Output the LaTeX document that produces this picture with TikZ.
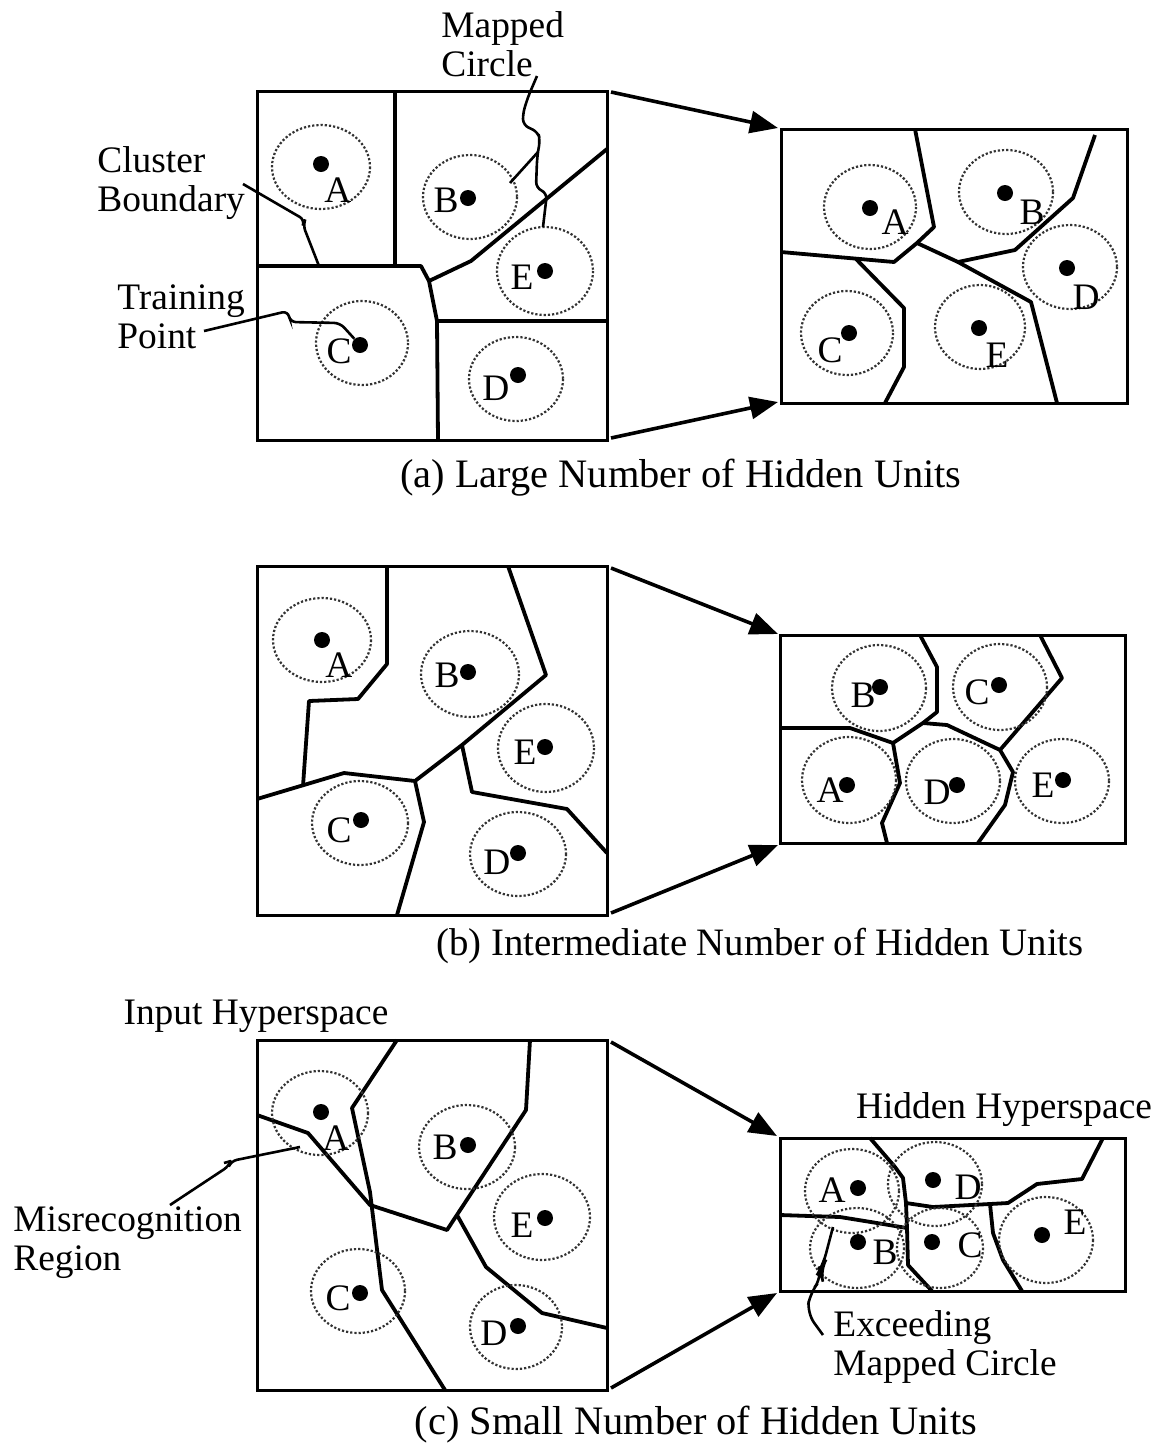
\documentclass[tikz,border=0pt]{standalone}
\usepackage{fontspec}
\setmainfont{Liberation Serif}
\usetikzlibrary{arrows.meta}

\begin{document}
\begin{tikzpicture}[x=0.5pt, y=-0.5pt,
    every node/.style={font=\fontsize{18.7}{19.5}\selectfont, inner sep=0pt},
    frame/.style={draw, line width=1.5pt},
    border/.style={draw, line width=1.9pt, line join=round},
    mapped/.style={draw=black!80, line width=1.1pt, densely dotted},
    train/.style={circle, fill, minimum size=8pt},
    leader/.style={draw, line width=1.3pt, rounded corners=3pt},
    maparrow/.style={draw, line width=1.8pt, -{Triangle[length=14pt,width=11pt]}},
    caption/.style={font=\fontsize{20.2}{24}\selectfont}
]
\useasboundingbox (0,0) rectangle (1158,1448);

% (a) large number of hidden units
\draw[frame] (257,91) rectangle (607,440);
\draw[border] (395,91) -- (395,266);
\draw[border] (257,266) -- (421,266) -- (429,281) -- (437,321) -- (438,440);
\draw[border] (437,321) -- (607,321);
\draw[border] (429,281) -- (471,261) -- (607,149);
\foreach \n/\cx/\cy/\rx/\ry/\dx/\dy/\lx/\ly in {
    A/321/167/49/42/321/164/338/190, B/470/197/47/42/468/198/446/200,
    E/545/271/48/44/545/271/522/277, C/362/343/46/42/360/345/339/351,
    D/516/379/47/42/518/375/496/388}{
  \draw[mapped] (\cx,\cy) ellipse [x radius=\rx, y radius=\ry];
  \node[train] (aL-\n) at (\dx,\dy) {};
  \node (aL-\n-lbl) at (\lx,\ly) {\n};
}

\draw[frame] (781,129) rectangle (1127,403);
\draw[border] (915,129) -- (934,227) -- (917,243) -- (894,262) -- (781,252);
\draw[border] (917,243) -- (958,262) -- (1031,302) -- (1057,403);
\draw[border] (958,262) -- (1015,250) -- (1073,198) -- (1095,135);
\draw[border] (856,259) -- (904,308) -- (904,367) -- (885,403);
\foreach \n/\cx/\cy/\rx/\ry/\dx/\dy/\lx/\ly in {
    A/870/207/46/42/870/208/895/222, B/1006/192/47/42/1005/193/1032/212,
    D/1070/267/47/42/1067/268/1086/297, C/847/333/46/42/849/333/830/350,
    E/980/327/45/42/979/328/997/355}{
  \draw[mapped] (\cx,\cy) ellipse [x radius=\rx, y radius=\ry];
  \node[train] (aR-\n) at (\dx,\dy) {};
  \node (aR-\n-lbl) at (\lx,\ly) {\n};
}

\node[align=left, anchor=west] (mapcircle) at (441,44) {Mapped\\Circle};
\node[align=left, anchor=west] (cluster) at (97,183) {Cluster\\Boundary};
\node[align=left, anchor=west] (training) at (117,317) {Training\\Point};
\coordinate (mc-start) at (537,76);
\coordinate (mc-fork) at (538,152);
\coordinate (mc-B) at (510,183);
\coordinate (mc-E) at (543,227);
\draw[leader] (mc-start) -- (528,97) -- (523,113) -- (523,125) -- (538,132) -- (540,140) -- (mc-fork);
\draw[leader] (mc-fork) -- (mc-B);
\draw[leader] (mc-fork) -- (537,160) -- (536,188) -- (547,193) -- (mc-E);
\coordinate (cb-start) at (243,184);
\coordinate (cb-end) at (319,266);
\draw[leader] (cb-start) -- (305,220) -- (303,225) -- (cb-end);
\coordinate (tp-start) at (204,331);
\draw[leader] (tp-start) -- (288,311) -- (290,322) -- (340,323) -- (aL-C);

\coordinate (aL-ne) at (611,92);
\coordinate (aL-se) at (611,438);
\coordinate (aR-nw) at (778,128);
\coordinate (aR-sw) at (778,402);
\draw[maparrow] (aL-ne) -- (aR-nw);
\draw[maparrow] (aL-se) -- (aR-sw);
\node[caption] (cap-a) at (681,478) {(a) Large Number of Hidden Units};

% (b) intermediate number of hidden units
\draw[frame] (257,566) rectangle (607,915);
\draw[border] (387,566) -- (387,664) -- (358,699) -- (309,701) -- (303,786);
\draw[border] (257,799) -- (344,773) -- (415,781) -- (424,822) -- (397,915);
\draw[border] (415,781) -- (462,745) -- (546,675) -- (508,566);
\draw[border] (462,745) -- (472,792) -- (567,809) -- (607,853);
\foreach \n/\cx/\cy/\rx/\ry/\dx/\dy/\lx/\ly in {
    A/322/640/49/42/322/640/339/665, B/470/674/49/43/468/672/447/675,
    E/546/748/48/44/545/747/525/752, C/360/823/48/42/361/820/339/830,
    D/518/854/48/42/518/853/497/862}{
  \draw[mapped] (\cx,\cy) ellipse [x radius=\rx, y radius=\ry];
  \node[train] (bL-\n) at (\dx,\dy) {};
  \node (bL-\n-lbl) at (\lx,\ly) {\n};
}

\draw[frame] (780,635) rectangle (1125,843);
\draw[border] (920,635) -- (937,667) -- (937,712) -- (923,723) -- (893,743) -- (900,783) -- (882,823) -- (887,843);
\draw[border] (780,728) -- (850,728) -- (893,743);
\draw[border] (923,723) -- (947,725) -- (1000,750) -- (1013,772) -- (1005,805) -- (978,843);
\draw[border] (1000,750) -- (1062,678) -- (1040,635);
\foreach \n/\cx/\cy/\rx/\ry/\dx/\dy/\lx/\ly in {
    B/879/688/47/43/880/687/863/695, C/1000/687/47/43/999/685/977/692,
    A/849/780/47/43/847/785/830/790, D/953/781/47/42/957/785/937/792,
    E/1062/781/47/42/1063/780/1043/785}{
  \draw[mapped] (\cx,\cy) ellipse [x radius=\rx, y radius=\ry];
  \node[train] (bR-\n) at (\dx,\dy) {};
  \node (bR-\n-lbl) at (\lx,\ly) {\n};
}

\coordinate (bL-ne) at (611,568);
\coordinate (bL-se) at (611,913);
\coordinate (bR-nw) at (778,634);
\coordinate (bR-sw) at (778,845);
\draw[maparrow] (bL-ne) -- (bR-nw);
\draw[maparrow] (bL-se) -- (bR-sw);
\node[caption, font=\fontsize{19.4}{24}\selectfont] (cap-b) at (760,946) {(b) Intermediate Number of Hidden Units};

% (c) small number of hidden units
\draw[frame] (257,1040) rectangle (607,1390);
\draw[border] (397,1040) -- (352,1108) -- (370,1192) -- (382,1290) -- (445,1390);
\draw[border] (257,1115) -- (308,1133) -- (370,1205) -- (447,1230) -- (526,1110) -- (530,1040);
\draw[border] (457,1215) -- (486,1267) -- (542,1313) -- (607,1328);
\foreach \n/\cx/\cy/\rx/\ry/\dx/\dy/\lx/\ly in {
    A/320/1113/48/42/321/1112/336/1138, B/467/1147/48/42/468/1145/445/1147,
    E/542/1217/48/43/545/1218/522/1225, C/358/1291/47/42/360/1293/338/1298,
    D/516/1327/46/42/518/1326/494/1333}{
  \draw[mapped] (\cx,\cy) ellipse [x radius=\rx, y radius=\ry];
  \node[train] (cL-\n) at (\dx,\dy) {};
  \node (cL-\n-lbl) at (\lx,\ly) {\n};
}

\draw[frame] (780,1138) rectangle (1125,1291);
\draw[border] (870,1138) -- (895,1167) -- (903,1178) -- (906,1203) -- (907,1228) -- (908,1265) -- (932,1291);
\draw[border] (780,1215) -- (840,1217) -- (877,1223) -- (907,1228);
\draw[border] (906,1203) -- (933,1207) -- (990,1204) -- (1008,1203) -- (1037,1184) -- (1082,1179) -- (1103,1138);
\draw[border] (990,1204) -- (993,1233) -- (1003,1260) -- (1022,1291);
\foreach \n/\cx/\cy/\rx/\ry/\dx/\dy/\lx/\ly in {
    A/852/1191/47/42/858/1188/832/1190, D/935/1184/47/42/933/1180/968/1187,
    B/857/1248/47/40/858/1242/885/1252, C/940/1248/43/40/932/1242/970/1245,
    E/1046/1240/47/43/1042/1235/1075/1222}{
  \draw[mapped] (\cx,\cy) ellipse [x radius=\rx, y radius=\ry];
  \node[train] (cR-\n) at (\dx,\dy) {};
  \node (cR-\n-lbl) at (\lx,\ly) {\n};
}

\node (input) at (256,1016) {Input Hyperspace};
\node (hidden) at (1004,1110) {Hidden Hyperspace};
\node[align=left, anchor=west] (misrec) at (13,1243) {Misrecognition\\Region};
\node[align=left, anchor=west] (exceed) at (833,1347) {Exceeding\\Mapped Circle};
\coordinate (mr-start) at (170,1205);
\coordinate (mr-hook) at (231,1161);
\coordinate (mr-end) at (300,1147);
\draw[leader] (mr-start) -- (229,1166) -- (mr-hook) -- (mr-end);
\draw[leader] (mr-hook) -- (224,1163);
\coordinate (ex-start) at (823,1335);
\coordinate (ex-end) at (833,1227);
\draw[leader, rounded corners=6pt] (ex-start) -- (807,1313) -- (810,1293) -- (822,1278) -- (820,1270) -- (823,1265) -- (ex-end);

\coordinate (cL-ne) at (611,1042);
\coordinate (cL-se) at (611,1388);
\coordinate (cR-nw) at (777,1136);
\coordinate (cR-sw) at (777,1293);
\draw[maparrow] (cL-ne) -- (cR-nw);
\draw[maparrow] (cL-se) -- (cR-sw);
\node[caption] (cap-c) at (696,1425) {(c) Small Number of Hidden Units};
\end{tikzpicture}
\end{document}
